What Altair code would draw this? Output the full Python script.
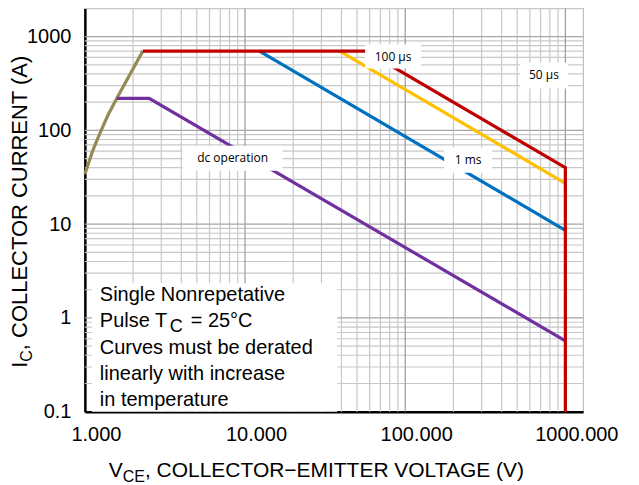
import altair as alt
import pandas as pd

FONT = "Liberation Sans"

# ---- curve data (V_CE in volts, I_C in amps) ----
olive_v = [1.0, 1.12, 1.24, 1.39, 1.58, 1.91, 2.3]
olive_i = [34, 61, 93, 144, 219, 394, 700]
purple_v = [1.58, 2.52, 1000]
purple_i = [220, 220, 0.57]
blue_v = [12.3, 1000]
blue_i = [700, 8.6]
yellow_v = [39, 1000]
yellow_i = [700, 27.3]
red_v = [2.3, 57, 1000, 1000]
red_i = [700, 700, 40, 0.1]

series = [
    ("olive", olive_v, olive_i, "#948A54"),
    ("dc", purple_v, purple_i, "#7030A0"),
    ("1ms", blue_v, blue_i, "#0070C0"),
    ("100us", yellow_v, yellow_i, "#FFC000"),
    ("50us", red_v, red_i, "#C00000"),
]

# ---- annotation labels ----
label_text = ["100 µs", "50 µs", "1 ms", "dc operation"]
label_v = [84, 735, 247, 8.36]
label_i = [613, 385, 48, 50.4]
label_halfw = [28, 24, 24, 50]
label_halfh = [12, 13, 12.5, 12.5]

# text block background (data units)
block_v = [1.105, 37.7]
block_i = [0.1, 2.35]

# ---- axes ----
x_ticks = [1, 10, 100, 1000]
y_ticks = [0.1, 1, 10, 100, 1000]
x_domain = [1, 1290]
y_domain = [0.1, 2000]

W, H = 499, 404

xs = alt.Scale(type="log", domain=x_domain, nice=False)
ys = alt.Scale(type="log", domain=y_domain, nice=False)

x_axis = alt.Axis(values=x_ticks, format=".3f", grid=False, ticks=False,
                  domainColor="black", domainWidth=2.5, labelFont=FONT,
                  labelFontSize=20, labelColor="black", labelPadding=13,
                  labelOffset=11, title=None, labelFlush=False)
y_axis = alt.Axis(values=y_ticks, format="~g", grid=False, ticks=False,
                  domainColor="black", domainWidth=2.5, labelFont=FONT,
                  labelFontSize=20, labelColor="black", labelPadding=14,
                  title=None, labelFlush=False)


def X(f="v:Q"):
    return alt.X(f, scale=xs, axis=x_axis)


def Y(f="i:Q"):
    return alt.Y(f, scale=ys, axis=y_axis)


# grid values
x_minor = [k * d for d in [1, 10, 100] for k in range(2, 10)]
x_major = [10, 100, 1000]
y_minor = [k * d for d in [0.1, 1, 10, 100] for k in range(2, 10)] + [2000]
y_major = [1, 10, 100, 1000]

layers = []
layers.append(alt.Chart(pd.DataFrame({"v": x_minor})).mark_rule(color="#C8C8C8", strokeWidth=1.2)
              .encode(x=X()))
layers.append(alt.Chart(pd.DataFrame({"i": y_minor})).mark_rule(color="#C8C8C8", strokeWidth=1.2)
              .encode(y=Y()))
layers.append(alt.Chart(pd.DataFrame({"v": x_major})).mark_rule(color="#9A9A9A", strokeWidth=1.2)
              .encode(x=X()))
layers.append(alt.Chart(pd.DataFrame({"i": y_major})).mark_rule(color="#A6A6A6", strokeWidth=1.2)
              .encode(y=Y()))

# text block background
layers.append(alt.Chart(pd.DataFrame({"v": [block_v[0]], "v2": [block_v[1]], "i": [block_i[0]], "i2": [block_i[1]]}))
              .mark_rect(color="white")
              .encode(x=X(), x2="v2:Q", y=Y(), y2="i2:Q"))

# curves
for name, vv, ii, col in series:
    df = pd.DataFrame({"v": vv, "i": ii, "k": list(range(len(vv)))})
    layers.append(alt.Chart(df).mark_line(color=col, strokeWidth=3.2, strokeJoin="miter")
                  .encode(x=X(), y=Y(), order="k:Q"))

# label boxes + labels
for t, v, i, hw, hh in zip(label_text, label_v, label_i, label_halfw, label_halfh):
    df = pd.DataFrame({"v": [v], "i": [i], "t": [t]})
    layers.append(alt.Chart(df).mark_rect(color="white", xOffset=-hw, x2Offset=hw, yOffset=-hh, y2Offset=hh)
                  .encode(x=X(), x2="v:Q", y=Y(), y2="i:Q"))
    layers.append(alt.Chart(df).mark_text(font="Open Sans", fontSize=12, color="black", align="center", baseline="middle")
                  .encode(x=X(), y=Y(), text="t:N"))

one = pd.DataFrame({"a": [0]})


def txt(s, x, y, size, angle=0):
    return alt.Chart(one).mark_text(text=s, font=FONT, fontSize=size, color="black",
                                    align="left", baseline="alphabetic", angle=angle
                                    ).encode(x=alt.value(x), y=alt.value(y))


# note block
note_x = 15
layers.append(txt("Single Nonrepetative", note_x, 292.7, 20))
layers.append(txt("Pulse T", note_x, 319.2, 20))
layers.append(txt("C", note_x + 70, 323.7, 18))
layers.append(txt("= 25°C", note_x + 91, 319.2, 20))
layers.append(txt("Curves must be derated", note_x, 345.7, 20))
layers.append(txt("linearly with increase", note_x, 372.2, 20))
layers.append(txt("in temperature", note_x, 398.7, 20))

# x title
layers.append(txt("V", 24, 469, 21))
layers.append(txt("CE", 38, 474, 16))
layers.append(txt(", COLLECTOR\u2212EMITTER VOLTAGE (V)", 60.2, 469, 21))

# y title (rotated)
layers.append(txt("I", -58, 360, 22, angle=270))
layers.append(txt("C", -53, 353.9, 16, angle=270))
layers.append(txt(", COLLECTOR CURRENT (A)", -58, 342.3, 22, angle=270))

chart = alt.layer(*layers).properties(
    width=W, height=H,
    autosize=alt.AutoSizeParams(type="none"),
    padding={"left": 77, "top": 0, "right": 48, "bottom": 76},
).configure_view(stroke="#BFBFBF", strokeWidth=1.2)

chart.save("out.html", embed_options={"renderer": "svg", "actions": False})
